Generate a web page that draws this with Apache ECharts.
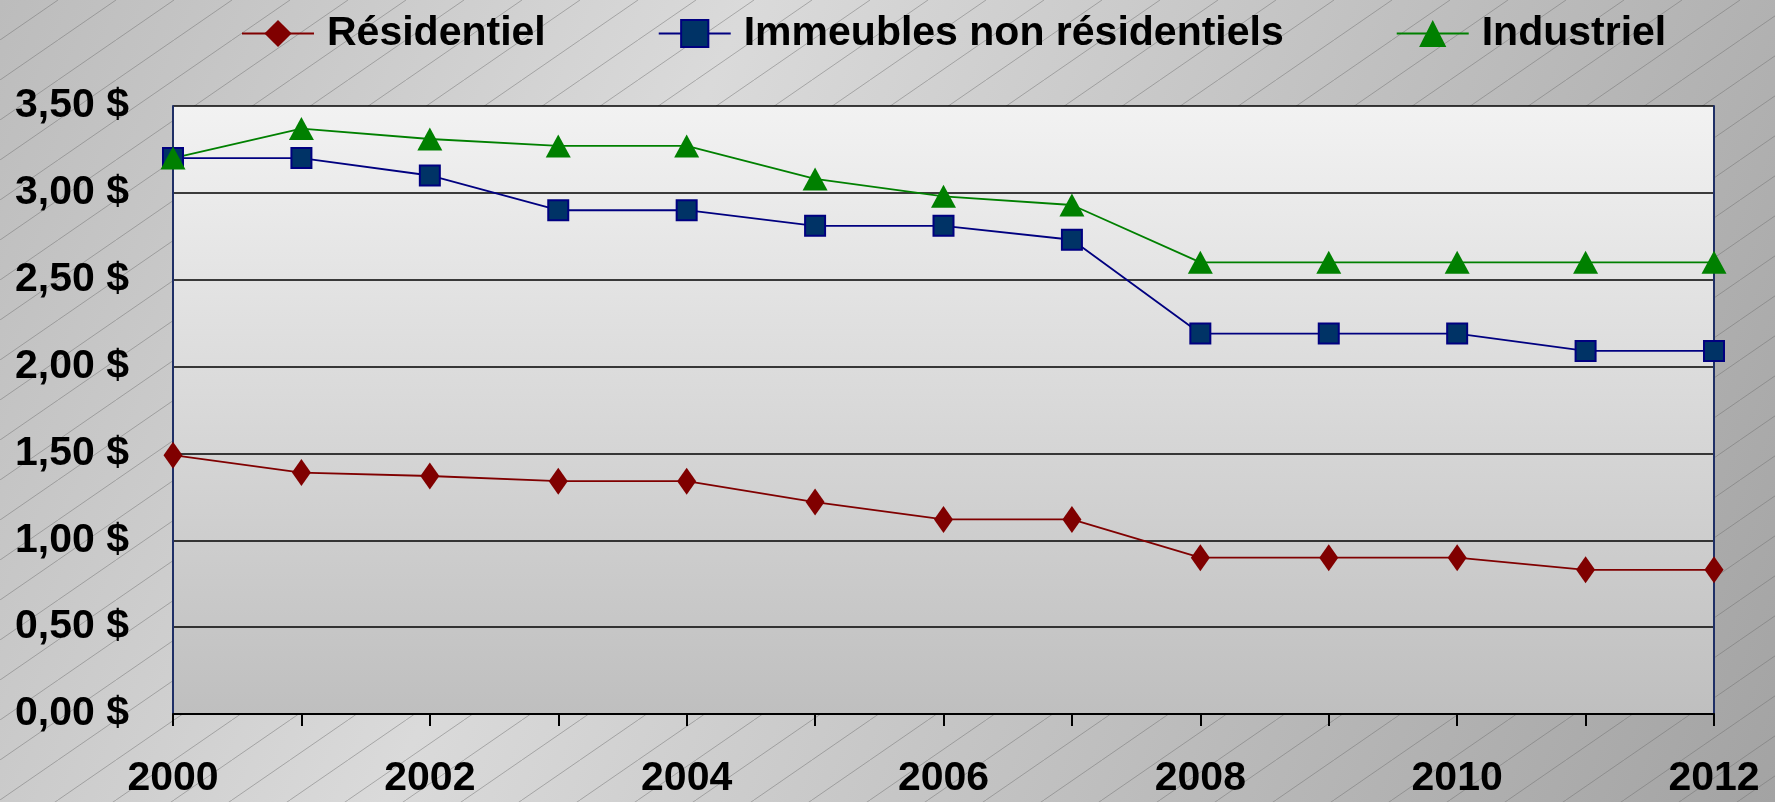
<!DOCTYPE html>
<html>
<head>
<meta charset="utf-8">
<script src="https://cdn.jsdelivr.net/npm/echarts@6/dist/echarts.min.js"></script>
<style>
    html, body { margin: 0; padding: 0; }
    #chart { width: 1775px; height: 802px; }
</style>
</head>
<body>
<div id="chart"></div>
<script>
    // données
    const years = ['2000', '2001', '2002', '2003', '2004', '2005', '2006', '2007', '2008', '2009', '2010', '2011', '2012'];
    const residentiel = [1.49, 1.39, 1.37, 1.34, 1.34, 1.22, 1.12, 1.12, 0.90, 0.90, 0.90, 0.83, 0.83];
    const nonResidentiel = [3.20, 3.20, 3.10, 2.90, 2.90, 2.81, 2.81, 2.73, 2.19, 2.19, 2.19, 2.09, 2.09];
    const industriel = [3.20, 3.37, 3.31, 3.27, 3.27, 3.08, 2.98, 2.93, 2.60, 2.60, 2.60, 2.60, 2.60];
    const seriesNames = ['Résidentiel', 'Immeubles non résidentiels', 'Industriel'];

    const font = "'Liberation Sans', Arial, sans-serif";
    const chart = echarts.init(document.getElementById('chart'), null, { renderer: 'canvas' });

    // motif de hachures en diagonale
    function hatch() {
        const w = 58, h = 40;
        const c = document.createElement('canvas');
        c.width = w; c.height = h;
        const ctx = c.getContext('2d');
        ctx.strokeStyle = 'rgba(110,110,110,0.6)';
        ctx.lineWidth = 0.8;
        [-w, 0, w].forEach(function (dx) {
            ctx.beginPath();
            ctx.moveTo(dx, h);
            ctx.lineTo(dx + w, 0);
            ctx.stroke();
        });
        return c;
    }

    chart.setOption({
        animation: false,
        graphic: [
            {
                type: 'rect', left: 0, top: 0, z: -20, silent: true,
                shape: { width: 1775, height: 802 },
                style: {
                    fill: new echarts.graphic.LinearGradient(0, 0, 1, 1, [
                        { offset: 0, color: '#bcbcbc' },
                        { offset: 0.35, color: '#dadada' },
                        { offset: 1, color: '#a3a3a3' }
                    ])
                }
            },
            {
                type: 'rect', left: 0, top: 0, z: -19, silent: true,
                shape: { width: 1775, height: 802 },
                style: { fill: { image: hatch(), repeat: 'repeat' } }
            }
        ],
        legend: {
            data: seriesNames,
            left: 236,
            top: 8,
            width: 1520,
            itemWidth: 72,
            itemHeight: 34,
            itemGap: 112,
            textStyle: { fontFamily: font, fontSize: 41, fontWeight: 'bold', color: '#000', padding: [0, 0, 0, 8] }
        },
        grid: {
            left: 173,
            right: 61,
            top: 106,
            bottom: 88,
            outerBoundsMode: 'none',
            show: true,
            borderWidth: 0,
            backgroundColor: new echarts.graphic.LinearGradient(0, 0, 0, 1, [
                { offset: 0, color: '#f2f2f2' },
                { offset: 1, color: '#bfbfbf' }
            ])
        },
        xAxis: {
            type: 'category',
            data: years,
            boundaryGap: false,
            axisLine: { lineStyle: { color: '#000', width: 2 } },
            axisTick: { show: true, interval: 0, length: 12, lineStyle: { color: '#000', width: 2 } },
            axisLabel: {
                interval: 1,
                margin: 44,
                fontFamily: font, fontSize: 41, fontWeight: 'bold', color: '#000'
            },
            splitLine: { show: false }
        },
        yAxis: [
            {
                type: 'value',
                min: 0,
                max: 3.5,
                interval: 0.5,
                axisLine: { show: true, lineStyle: { color: '#1f2f66', width: 2 } },
                axisTick: { show: false },
                axisLabel: {
                    margin: 44,
                    fontFamily: font, fontSize: 41, fontWeight: 'bold', color: '#000',
                    formatter: function (v) { return v.toFixed(2).replace('.', ',') + ' $'; }
                },
                splitLine: { lineStyle: { color: '#000', width: 1.5 } }
            },
            {
                type: 'value',
                position: 'right',
                min: 0,
                max: 3.5,
                interval: 0.5,
                axisLine: { show: true, lineStyle: { color: '#1f2f66', width: 2 } },
                axisTick: { show: false },
                axisLabel: { show: false },
                splitLine: { show: false }
            }
        ],
        series: [
            {
                name: seriesNames[0],
                type: 'line',
                data: residentiel,
                symbol: 'diamond',
                symbolSize: [19, 27],
                itemStyle: { color: '#800000' },
                lineStyle: { color: '#800000', width: 1.8 }
            },
            {
                name: seriesNames[1],
                type: 'line',
                data: nonResidentiel,
                symbol: 'rect',
                symbolSize: 20,
                itemStyle: { color: '#003366', borderColor: '#000080', borderWidth: 2 },
                lineStyle: { color: '#000080', width: 1.8 }
            },
            {
                name: seriesNames[2],
                type: 'line',
                data: industriel,
                symbol: 'triangle',
                symbolSize: [25, 23],
                itemStyle: { color: '#008000' },
                lineStyle: { color: '#008000', width: 1.8 }
            }
        ]
    });

    window.onresize = function () {
        chart.resize();
    };
</script>
</body>
</html>
